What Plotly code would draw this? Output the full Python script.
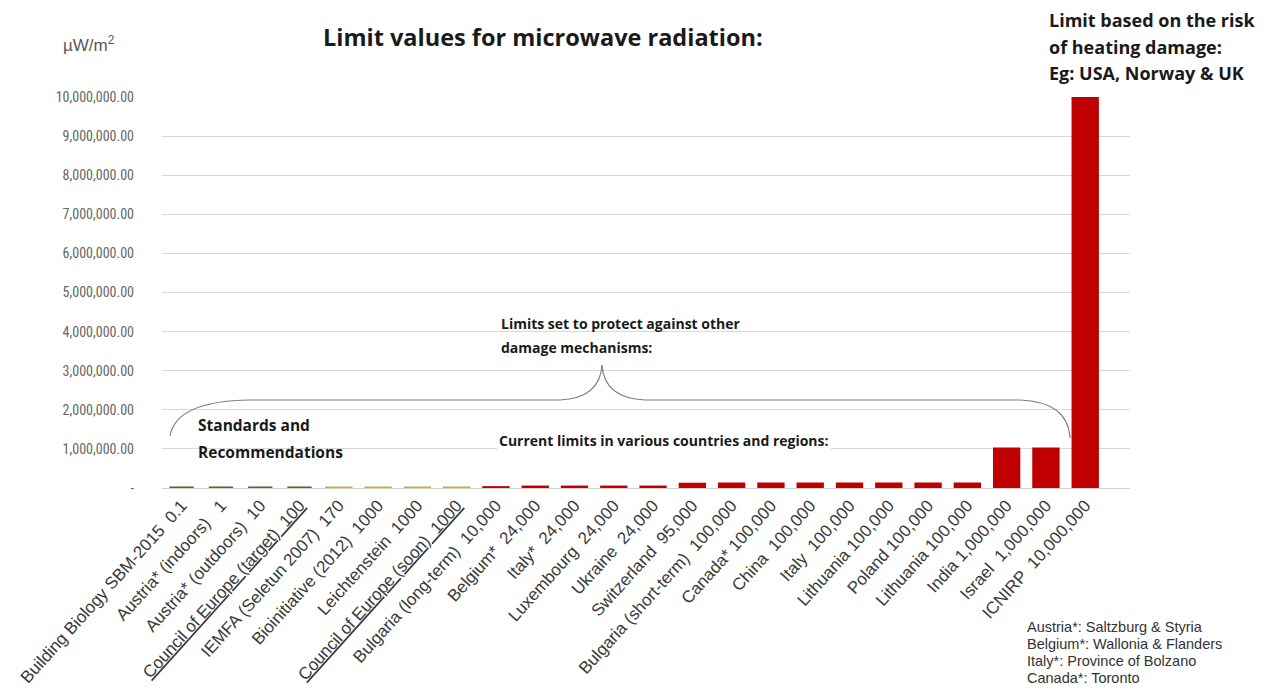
import plotly.graph_objects as go

# ---- data ----
labels = [
    "Building Biology SBM-2015\u00a0\u00a00.1",
    "Austria* (indoors)\u00a0\u00a0\u00a01",
    "Austria* (outdoors)\u00a0\u00a010",
    "<u>Council of Europe (target)\u00a0\u00a0100</u>",
    "IEMFA (Seletun 2007)\u00a0\u00a0170",
    "Bioinitiative (2012)\u00a0\u00a01000",
    "Leichtenstein\u00a0\u00a01000",
    "<u>Council of Europe (soon)\u00a0\u00a01000</u>",
    "Bulgaria (long-term)\u00a0\u00a010,000",
    "Belgium*\u00a0\u00a024,000",
    "Italy*\u00a0\u00a024,000",
    "Luxembourg\u00a0\u00a024,000",
    "Ukraine\u00a0\u00a024,000",
    "Switzerland\u00a0\u00a095,000",
    "Bulgaria (short-term)\u00a0\u00a0100,000",
    "Canada*\u00a0100,000",
    "China\u00a0\u00a0100,000",
    "Italy\u00a0\u00a0100,000",
    "Lithuania\u00a0100,000",
    "Poland\u00a0100,000",
    "Lithuania\u00a0100,000",
    "India\u00a01,000,000",
    "Israel\u00a0\u00a01,000,000",
    "ICNIRP\u00a0\u00a010,000,000",
]
values = [0.1, 1, 10, 100, 170, 1000, 1000, 1000, 10000, 24000, 24000, 24000,
          24000, 95000, 100000, 100000, 100000, 100000, 100000, 100000, 100000,
          1000000, 1000000, 10000000]
groups = ["rec"] * 4 + ["alt"] * 4 + ["law"] * 16
group_colors = {"rec": "#4e6b2c", "alt": "#c9b232", "law": "#c00000"}
y_ticks = [0, 1e6, 2e6, 3e6, 4e6, 5e6, 6e6, 7e6, 8e6, 9e6, 1e7]
footnotes = ["Austria*: Saltzburg & Styria", "Belgium*: Wallonia & Flanders",
             "Italy*: Province of Bolzano", "Canada*: Toronto"]

# ---- layout constants (figure pixels; page has an 8px body margin) ----
OFF = 8
W, H = 1253, 683
L, T = 154, 89
PLOT_RIGHT, PLOT_BOTTOM = 1122, 480
R, B = W - PLOT_RIGHT, H - PLOT_BOTTOM
PW, PH = W - L - R, H - T - B
EXTRA_RIGHT = 0.64  # extra empty category space on the right (in category units)


def px(xs):
    """screen x -> paper x"""
    return (xs - OFF - L) / PW


def py(ys):
    """screen y -> paper y"""
    return (PLOT_BOTTOM - (ys - OFF)) / PH


xs = list(range(len(values)))
colors = [group_colors[g] for g in groups]

fig = go.Figure(go.Bar(
    x=xs, y=values,
    marker=dict(color=colors, line=dict(color=colors, width=3)),
    width=0.62,
    hoverinfo="skip",
))

ylabels = [("-" if v == 0 else f"{v:,.2f}") for v in y_ticks]

fig.update_layout(
    width=W, height=H,
    margin=dict(l=L, r=R, t=T, b=B, autoexpand=False),
    paper_bgcolor="white", plot_bgcolor="white",
    showlegend=False,
    xaxis=dict(
        tickmode="array", tickvals=xs, ticktext=labels,
        tickangle=-48, range=[-0.5, len(values) - 0.5 + EXTRA_RIGHT],
        tickfont=dict(family="Liberation Sans, Arial, sans-serif", size=17, color="#3a3a3a"),
        showgrid=False, zeroline=False, showline=True, linecolor="#d0d0d0",
        ticks="", automargin=False,
    ),
    yaxis=dict(
        range=[0, 1e7], tickmode="array", tickvals=y_ticks, ticktext=ylabels,
        tickfont=dict(family="Liberation Sans Narrow, Roboto Condensed, Arial Narrow, sans-serif",
                      size=14, color="#666666"),
        showgrid=True, gridcolor="#d9d9d9", gridwidth=1, zeroline=False,
        ticks="", ticklabelstandoff=27, automargin=False,
    ),
)

BOLD = "Open Sans, sans-serif"
ann = []


def text(x, y, s, size, family=BOLD, color="#1a1a1a", xanchor="left", bg=None):
    d = dict(x=px(x), y=py(y), xref="paper", yref="paper", showarrow=False,
             xanchor=xanchor, yanchor="middle", align="left", text=s,
             font=dict(family=family, size=size, color=color))
    if bg:
        d["bgcolor"] = bg
    ann.append(d)


text(89, 44, "µW/m<sup>2</sup>", 17,
     family="Liberation Sans Narrow, Arial Narrow, sans-serif", color="#595959", xanchor="center")
text(543, 37, "<b>Limit values for microwave radiation:</b>", 23.5, xanchor="center")
for i, line in enumerate(["Limit based on the risk", "of heating damage:", "Eg: USA, Norway & UK"]):
    text(1047, 20 + i * 26.5, f"<b>{line}</b>", 18)
for i, line in enumerate(["Limits set to protect against other", "damage mechanisms:"]):
    text(499, 323 + i * 24, f"<b>{line}</b>", 14)
for i, line in enumerate(["Standards and", "Recommendations"]):
    text(196, 425 + i * 27, f"<b>{line}</b>", 15.5)
text(497, 440, "<b>Current limits in various countries and regions:</b>", 14, bg="white")
for i, line in enumerate(footnotes):
    text(1025, 627 + i * 17, line, 14.5, family="Liberation Sans, Arial, sans-serif", color="#333333")
fig.update_layout(annotations=ann)

# curly brace
pts = [(170, 436), (176, 401), (250, 400), (560, 400), (600, 398), (602, 365),
       (604, 398), (645, 400), (1020, 400), (1068, 402), (1070, 438)]
P = [f"{px(x):.5f},{py(y):.5f}" for x, y in pts]
path = (f"M {P[0]} Q {P[1]} {P[2]} L {P[3]} Q {P[4]} {P[5]} "
        f"Q {P[6]} {P[7]} L {P[8]} Q {P[9]} {P[10]}")
fig.add_shape(type="path", path=path, xref="paper", yref="paper",
              line=dict(color="#808080", width=1.2), layer="above")

fig.write_html("out.html")
